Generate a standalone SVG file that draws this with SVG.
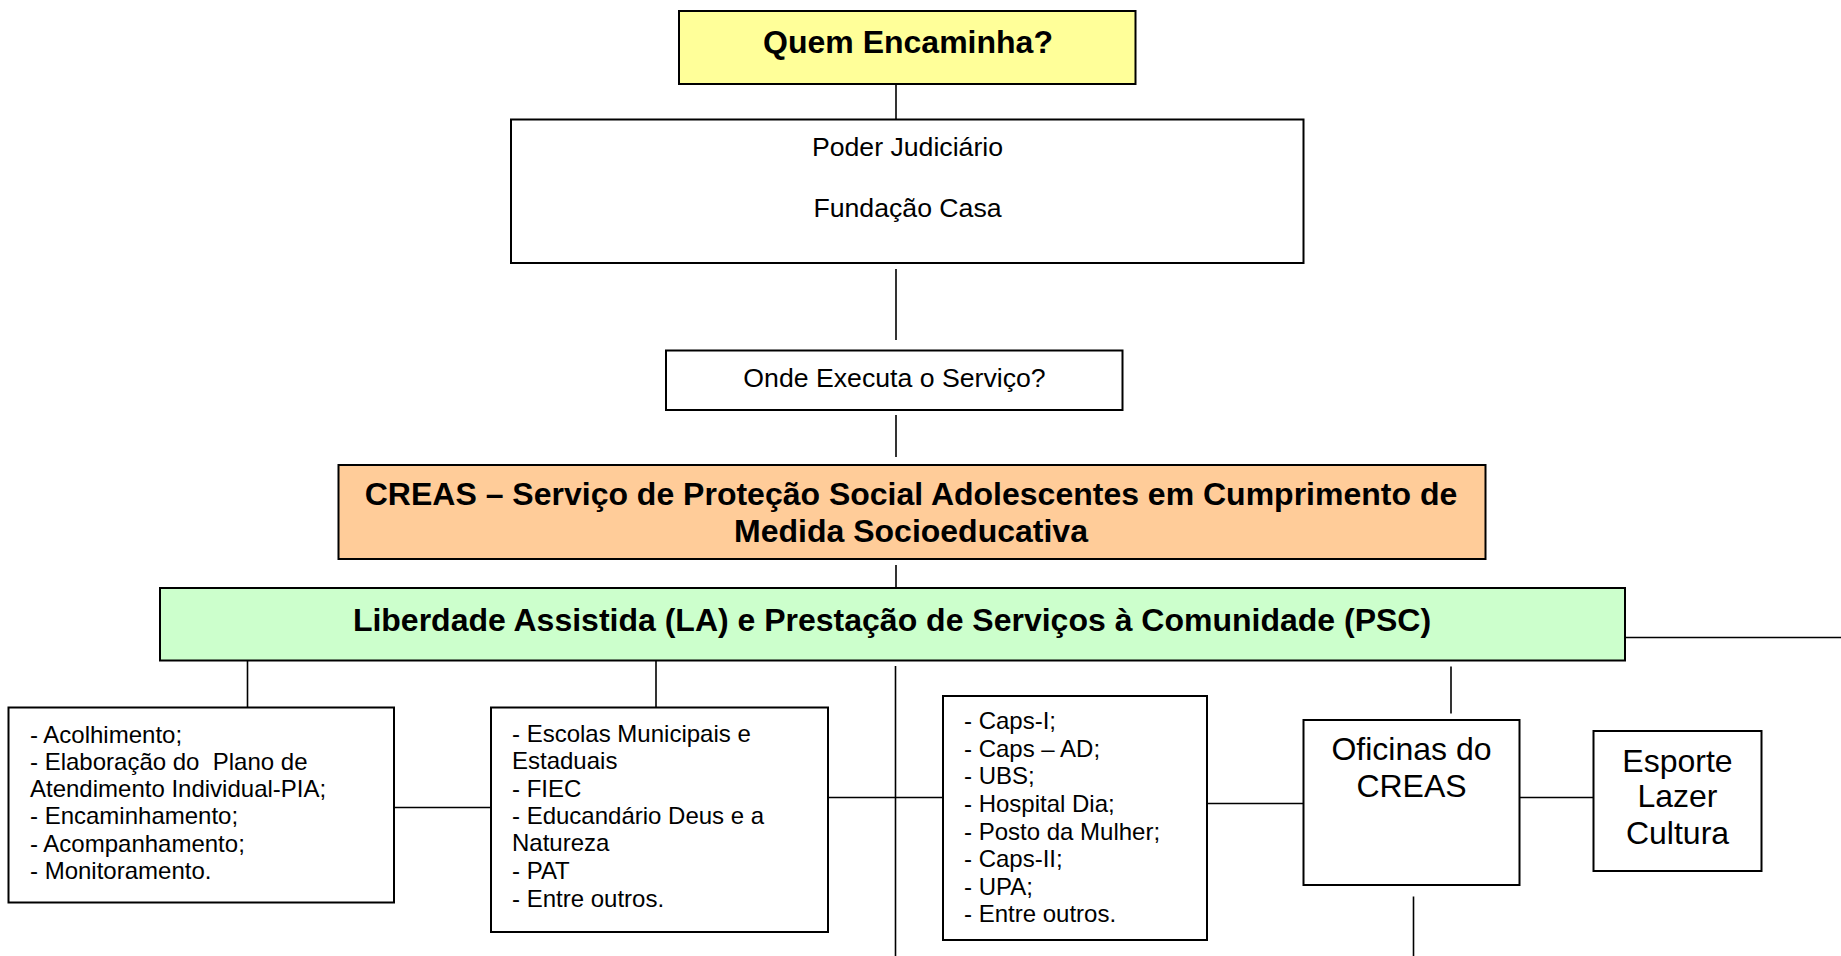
<svg xmlns="http://www.w3.org/2000/svg" width="1841" height="956" viewBox="0 0 1841 956">
<style>
  .box { stroke: #000; stroke-width: 2; }
  .w { fill: #fff; }
  .ln { stroke: #000; stroke-width: 1.6; fill: none; }
  text { font-family: "Liberation Sans", Arial, sans-serif; fill: #000; }
  .b32 { font-size: 32px; font-weight: bold; text-anchor: middle; }
  .r27 { font-size: 26.67px; text-anchor: middle; }
  .r24 { font-size: 24px; }
  .r32 { font-size: 32px; text-anchor: middle; }
</style>
<rect width="1841" height="956" fill="#fff"/>
<g id="connectors">
  <line class="ln" x1="896" y1="84" x2="896" y2="119"/>
  <line class="ln" x1="896" y1="269" x2="896" y2="340"/>
  <line class="ln" x1="896" y1="415" x2="896" y2="457"/>
  <line class="ln" x1="896" y1="565" x2="896" y2="587"/>
  <line class="ln" x1="1625" y1="637.5" x2="1841" y2="637.5"/>
  <line class="ln" x1="247.5" y1="660" x2="247.5" y2="707"/>
  <line class="ln" x1="656" y1="660" x2="656" y2="707"/>
  <line class="ln" x1="895.5" y1="666" x2="895.5" y2="956"/>
  <line class="ln" x1="1451" y1="666.5" x2="1451" y2="713.5"/>
  <line class="ln" x1="394" y1="807.5" x2="491" y2="807.5"/>
  <line class="ln" x1="828" y1="797.5" x2="943" y2="797.5"/>
  <line class="ln" x1="1207" y1="803.5" x2="1303.5" y2="803.5"/>
  <line class="ln" x1="1519" y1="797.5" x2="1593.5" y2="797.5"/>
  <line class="ln" x1="1413.5" y1="896.5" x2="1413.5" y2="956"/>
</g>
<g id="quem">
  <rect class="box" x="679" y="11" width="456.5" height="73" fill="#FFFF99"/>
  <text class="b32" x="908" y="53">Quem Encaminha?</text>
</g>
<g id="poder">
  <rect class="box w" x="511" y="119.5" width="792.5" height="143.5"/>
  <text class="r27" x="907.5" y="156">Poder Judiciário</text>
  <text class="r27" x="907.5" y="217">Fundação Casa</text>
</g>
<g id="onde">
  <rect class="box w" x="666" y="350.5" width="456.5" height="59.5"/>
  <text class="r27" x="894.5" y="387">Onde Executa o Serviço?</text>
</g>
<g id="creas">
  <rect class="box" x="338.5" y="465" width="1147" height="94" fill="#FFCC99"/>
  <text class="b32" x="911" y="505">CREAS – Serviço de Proteção Social Adolescentes em Cumprimento de</text>
  <text class="b32" x="911" y="542">Medida Socioeducativa</text>
</g>
<g id="la-psc">
  <rect class="box" x="160" y="588" width="1465" height="72.5" fill="#CCFFCC"/>
  <text class="b32" x="892" y="631">Liberdade Assistida (LA) e Prestação de Serviços à Comunidade (PSC)</text>
</g>
<g id="atividades">
  <rect class="box w" x="8.5" y="707.5" width="385.5" height="195"/>
  <text class="r24">
    <tspan x="30" y="742.5">- Acolhimento;</tspan>
    <tspan x="30" y="770">- Elaboração do&#160; Plano de</tspan>
    <tspan x="30" y="797">Atendimento Individual-PIA;</tspan>
    <tspan x="30" y="824">- Encaminhamento;</tspan>
    <tspan x="30" y="851.5">- Acompanhamento;</tspan>
    <tspan x="30" y="879">- Monitoramento.</tspan>
  </text>
</g>
<g id="escolas">
  <rect class="box w" x="491" y="707.5" width="337" height="224.5"/>
  <text class="r24">
    <tspan x="512" y="742">- Escolas Municipais e</tspan>
    <tspan x="512" y="769">Estaduais</tspan>
    <tspan x="512" y="796.5">- FIEC</tspan>
    <tspan x="512" y="824">- Educandário Deus e a</tspan>
    <tspan x="512" y="851">Natureza</tspan>
    <tspan x="512" y="879">- PAT</tspan>
    <tspan x="512" y="906.5">- Entre outros.</tspan>
  </text>
</g>
<g id="saude">
  <rect class="box w" x="943" y="696" width="264" height="244"/>
  <text class="r24">
    <tspan x="964" y="728.5">- Caps-I;</tspan>
    <tspan x="964" y="756.5">- Caps – AD;</tspan>
    <tspan x="964" y="783.5">- UBS;</tspan>
    <tspan x="964" y="811.5">- Hospital Dia;</tspan>
    <tspan x="964" y="839.5">- Posto da Mulher;</tspan>
    <tspan x="964" y="866.5">- Caps-II;</tspan>
    <tspan x="964" y="894.5">- UPA;</tspan>
    <tspan x="964" y="921.5">- Entre outros.</tspan>
  </text>
</g>
<g id="oficinas">
  <rect class="box w" x="1303.5" y="720" width="216" height="165"/>
  <text class="r32" x="1411.5" y="760">Oficinas do</text>
  <text class="r32" x="1411.5" y="797">CREAS</text>
</g>
<g id="esporte">
  <rect class="box w" x="1593.5" y="731" width="168" height="140"/>
  <text class="r32" x="1677.5" y="771.5">Esporte</text>
  <text class="r32" x="1677.5" y="807">Lazer</text>
  <text class="r32" x="1677.5" y="843.5">Cultura</text>
</g>
</svg>
